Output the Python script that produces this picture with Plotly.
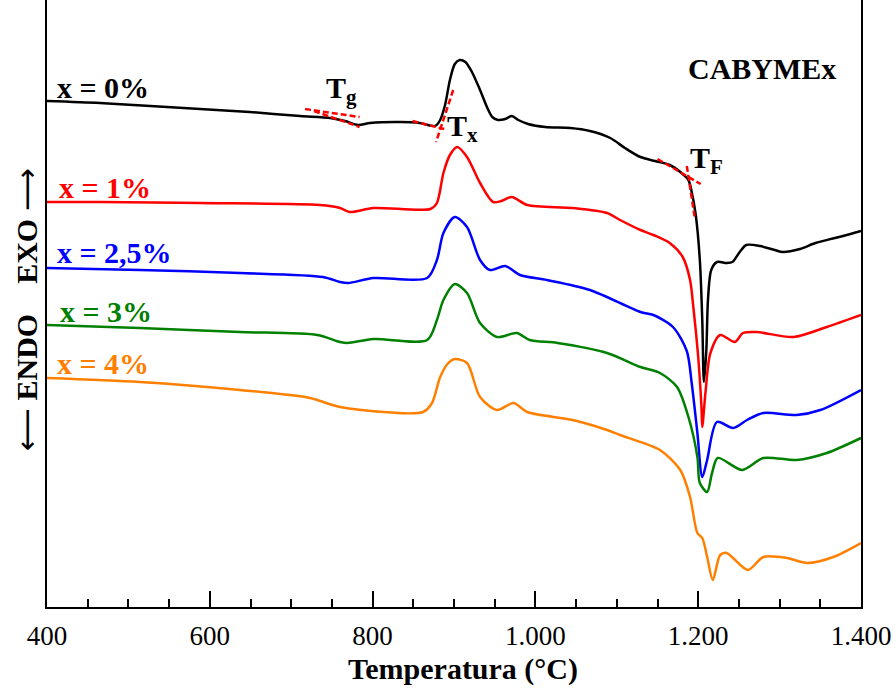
import plotly.graph_objects as go

# Temperature (°C) and DSC signal (arbitrary units, exo up, curves offset)
T0 = [400, 465, 527, 588, 649, 711, 748, 766, 782, 797, 834, 858, 877, 883, 889, 895, 901, 907, 914, 922, 932, 941, 947, 954, 963, 971, 979, 991, 1012, 1043, 1067, 1092, 1110, 1129, 1147, 1165, 1178, 1188, 1192, 1197, 1202, 1205, 1207, 1210, 1212, 1216, 1223, 1235, 1242, 1251, 1259, 1276, 1294, 1304, 1325, 1344, 1368, 1387, 1400]
S0 = [506, 504, 501, 498, 495, 491, 489, 486, 482, 484, 485, 484, 481, 487, 502, 527, 543, 547, 545, 535, 517, 499, 490, 487, 488, 491, 487, 483, 480, 479, 476, 469, 459, 450, 446, 442, 435, 427, 415, 392, 347, 287, 225, 257, 307, 337, 345, 344, 345, 355, 362, 361, 357, 355, 358, 364, 369, 373, 376]

T1 = [400, 465, 588, 735, 760, 772, 801, 871, 879, 887, 895, 904, 916, 932, 948, 958, 971, 990, 1046, 1088, 1104, 1129, 1145, 1165, 1181, 1190, 1194, 1200, 1204, 1205, 1209, 1215, 1227, 1245, 1255, 1272, 1317, 1358, 1400]
S1 = [405, 405, 404, 402, 399, 395, 399, 398, 404, 434, 452, 460, 450, 424, 405, 406, 410, 402, 399, 394, 387, 377, 372, 364, 350, 327, 300, 250, 200, 180, 215, 254, 272, 265, 274, 275, 270, 280, 292]

T25 = [400, 514, 637, 739, 760, 770, 801, 867, 879, 887, 901, 916, 932, 944, 963, 981, 1014, 1067, 1129, 1145, 1169, 1186, 1192, 1199, 1205, 1211, 1223, 1243, 1260, 1280, 1321, 1350, 1400]
S25 = [339, 337, 334, 330, 325, 324, 329, 329, 347, 374, 390, 380, 347, 337, 341, 332, 327, 317, 295, 292, 280, 256, 224, 174, 130, 147, 185, 179, 187, 194, 192, 197, 217]

T3 = [400, 514, 637, 732, 760, 769, 801, 867, 879, 887, 901, 916, 932, 953, 977, 993, 1027, 1088, 1129, 1153, 1174, 1188, 1199, 1202, 1211, 1217, 1224, 1254, 1280, 1321, 1358, 1400]
S3 = [282, 279, 275, 272, 265, 264, 268, 267, 287, 307, 323, 314, 284, 270, 274, 267, 264, 254, 240, 234, 220, 190, 150, 124, 115, 134, 149, 137, 149, 147, 154, 169]

T4 = [400, 514, 637, 723, 760, 862, 873, 883, 892, 901, 916, 932, 953, 973, 990, 1046, 1088, 1104, 1153, 1178, 1190, 1199, 1205, 1211, 1218, 1227, 1235, 1261, 1280, 1309, 1334, 1366, 1400]
S4 = [229, 225, 217, 209, 200, 195, 204, 230, 243, 248, 244, 210, 197, 204, 195, 187, 177, 172, 157, 137, 110, 74, 69, 50, 27, 52, 54, 37, 50, 49, 44, 50, 64]

series = [
    ("x = 0%", T0, S0, "#000000"),
    ("x = 1%", T1, S1, "#ff0000"),
    ("x = 2,5%", T25, S25, "#0000ff"),
    ("x = 3%", T3, S3, "#008000"),
    ("x = 4%", T4, S4, "#ff8000"),
]
label_pos = [(410, 520), (412, 420), (410, 355), (414, 296), (410, 244)]

# tangent construction lines (Tg, Tx, TF)
tangents = [
    ([717, 784], [498, 490]),
    ([728, 784], [496, 480]),
    ([849, 888], [486, 478]),
    ([899, 878], [517, 465]),
    ([1150, 1203], [448, 423]),
    ([1186, 1196], [441, 388]),
]

tick_vals = [400, 600, 800, 1000, 1200, 1400]
tick_text = ["400", "600", "800", "1.000", "1.200", "1.400"]

FONT = "Liberation Serif"
ARROW = "<span style='font-family:DejaVu Sans'>{}</span>"

fig = go.Figure()
for name, t, s, c in series:
    fig.add_trace(go.Scatter(x=t, y=s, mode="lines", name=name,
                             line=dict(color=c, width=2.5, shape="spline", smoothing=0.8),
                             showlegend=False, hoverinfo="skip"))
for tx, ty in tangents:
    fig.add_trace(go.Scatter(x=tx, y=ty, mode="lines",
                             line=dict(color="#ff0000", width=2.5, dash="6px,3px"),
                             showlegend=False, hoverinfo="skip"))

ann = []
for (name, t, s, c), (lx, ly) in zip(series, label_pos):
    ann.append(dict(x=lx, y=ly, xref="x", yref="y", text="<b>" + name + "</b>",
                    showarrow=False, xanchor="left", yanchor="middle",
                    font=dict(family=FONT, size=30, color=c)))
ann.append(dict(x=1278, y=539, xref="x", yref="y", text="<b>CABYMEx</b>", showarrow=False,
                font=dict(family=FONT, size=30, color="black")))
for txt, x, y in [("T<sub>g</sub>", 762, 517), ("T<sub>x</sub>", 910, 479), ("T<sub>F</sub>", 1210, 447)]:
    ann.append(dict(x=x, y=y, xref="x", yref="y", text="<b>" + txt + "</b>", showarrow=False,
                    font=dict(family=FONT, size=30, color="black")))
ann.append(dict(x=(463 - 47) / 814, y=(607 - 669) / 607, xref="paper", yref="paper",
                text="<b>Temperatura (°C)</b>", showarrow=False, xanchor="center", yanchor="middle",
                font=dict(family=FONT, size=30, color="black")))
ann.append(dict(x=(27 - 47) / 814, y=(607 - 310) / 607, xref="paper", yref="paper",
                text=ARROW.format("⟵") + "<b> ENDO    EXO </b>" + ARROW.format("⟶"),
                showarrow=False, textangle=-90,
                xanchor="center", yanchor="middle",
                font=dict(family=FONT, size=30, color="black")))

fig.update_layout(
    width=896, height=688,
    margin=dict(l=47, r=35, t=0, b=81),
    paper_bgcolor="white", plot_bgcolor="white",
    annotations=ann,
    xaxis=dict(range=[400, 1400], tickvals=tick_vals, ticktext=tick_text,
               ticks="inside", ticklen=16, tickwidth=1.5, tickcolor="black",
               minor=dict(dtick=50, ticks="inside", ticklen=8, tickwidth=1.5, tickcolor="black"),
               showline=True, linecolor="black", linewidth=1.5, showgrid=False, zeroline=False,
               tickfont=dict(family=FONT, size=27, color="black"), ticklabelstandoff=4),
    yaxis=dict(range=[0, 607], showticklabels=False, ticks="", showgrid=False, zeroline=False,
               showline=True, linecolor="black", linewidth=1.5, mirror=True),
)
fig.write_html("out.html")
